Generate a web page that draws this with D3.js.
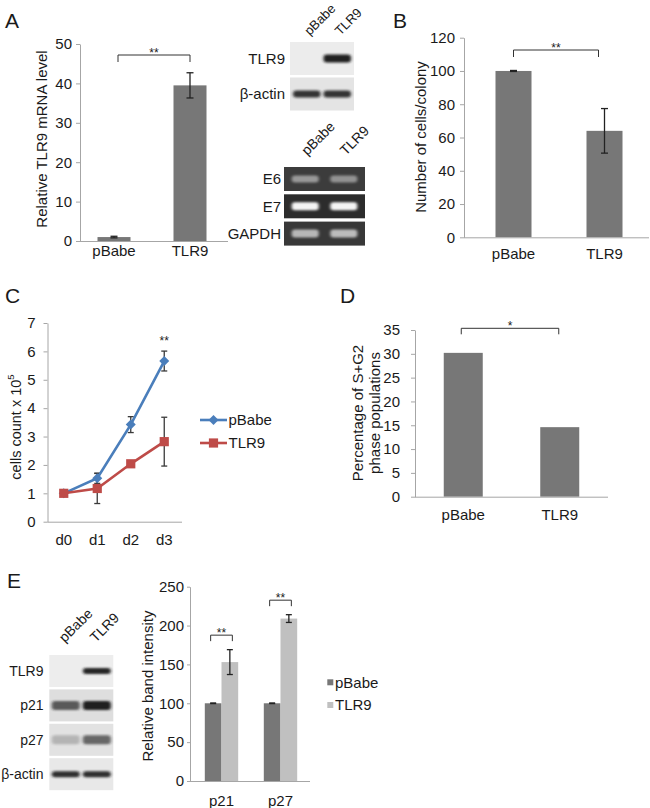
<!DOCTYPE html>
<html><head><meta charset="utf-8">
<script src="https://cdn.jsdelivr.net/npm/d3@7"></script>
<style>
body{margin:0;background:#fff;}
svg text{font-family:"Liberation Sans",Arial,Helvetica,sans-serif;fill:#1a1a1a;}
</style></head><body>
<svg id="fig" width="650" height="808"></svg>
<script>
// ---------------- DATA ----------------
const groups = ["pBabe", "TLR9"];

const mrnaLevel = [1.0, 39.5];
const mrnaError = [0.2, 3.2];
const mrnaTicks = [0, 10, 20, 30, 40, 50];

const colonyCells = [100, 64];
const colonyError = [0.3, 13.4];
const colonyTicks = [0, 20, 40, 60, 80, 100, 120];

const days = ["d0", "d1", "d2", "d3"];
const countPBabe = [1.0, 1.53, 3.42, 5.66];
const countPBabeErr = [0, 0.18, 0.28, 0.35];
const countTLR9 = [1.0, 1.17, 2.04, 2.82];
const countTLR9Err = [0, 0.53, 0.04, 0.86];
const countTicks = [0, 1, 2, 3, 4, 5, 6, 7];

const phasePct = [30.2, 14.6];
const phaseTicks = [0, 5, 10, 15, 20, 25, 30, 35];

const proteins = ["p21", "p27"];
const bandPBabe = [100, 100];
const bandPBabeErr = [0.4, 0.4];
const bandTLR9 = [153, 209];
const bandTLR9Err = [16, 5];
const bandTicks = [0, 50, 100, 150, 200, 250];

const blotARows = ["TLR9", "β-actin"];
const blotAIntensity = [[0, 0.95], [0.85, 0.85]];
const gelRows = ["E6", "E7", "GAPDH"];
const gelIntensity = [[0.5, 0.47], [1.0, 1.0], [0.68, 0.7]];
const blotERows = ["TLR9", "p21", "p27", "β-actin"];
const blotEIntensity = [[0, 0.92], [0.66, 0.95], [0.22, 0.6], [0.88, 0.88]];

// ---------------- STYLE ----------------
const AX = "#a6a6a6", DARK = "#777777", LIGHT = "#c0c0c0", TXT = "#1a1a1a";
const BLUE = "#4a7ebb", RED = "#be4b48";
const FS = 15;
const intFmt = d3.format("d");

const svg = d3.select("#fig");
const defs = svg.append("defs");
defs.append("filter").attr("id", "blur").attr("x", "-30%").attr("y", "-120%").attr("width", "160%").attr("height", "340%")
  .append("feGaussianBlur").attr("stdDeviation", "1.8 1.3");

function styleAxis(a) {
  a.attr("font-family", null).attr("font-size", null);
  a.select(".domain").attr("stroke", AX);
  a.selectAll(".tick line").attr("stroke", AX);
  a.selectAll(".tick text").attr("font-size", FS).attr("fill", TXT);
}
function panelLabel(t, x, y) {
  svg.append("text").attr("x", x).attr("y", y).attr("font-size", 21).text(t);
}
function yTitle(lines, cxs, cy, fs) {
  lines.forEach((l, i) => {
    svg.append("text").attr("transform", `translate(${cxs[i]},${cy}) rotate(-90)`)
      .attr("text-anchor", "middle").attr("dy", "0.35em").attr("font-size", fs || FS).text(l);
  });
}
function errorBars(g, pts, y, cap, color) {
  pts.forEach(p => {
    if (p.e == null) return;
    const y1 = y(p.v + p.e), y2 = y(p.v - p.e);
    g.append("line").attr("x1", p.cx).attr("x2", p.cx).attr("y1", y1).attr("y2", y2)
      .attr("stroke", color || "#222").attr("stroke-width", 1.3);
    [y1, y2].forEach(yy => g.append("line").attr("x1", p.cx - cap / 2).attr("x2", p.cx + cap / 2)
      .attr("y1", yy).attr("y2", yy).attr("stroke", color || "#222").attr("stroke-width", 1.3));
  });
}
function bracket(x1, x2, yTop, leg, label) {
  svg.append("path").attr("d", `M${x1},${yTop + leg}V${yTop}H${x2}V${yTop + leg}`)
    .attr("fill", "none").attr("stroke", "#333").attr("stroke-width", 1);
  svg.append("text").attr("x", (x1 + x2) / 2).attr("y", yTop + 1.5).attr("text-anchor", "middle")
    .attr("font-size", 12).text(label);
}
function barChart(o) {
  const x = d3.scaleBand().domain(o.cats).range(o.xr);
  const y = d3.scaleLinear().domain(o.dom).range(o.yr);
  const g = svg.append("g");
  const ya = g.append("g").attr("transform", `translate(${o.axX},0)`)
    .call(d3.axisLeft(y).tickValues(o.ticks).tickFormat(intFmt).tickSize(4).tickSizeOuter(0).tickPadding(o.tickPad));
  styleAxis(ya);
  const cx = d => x(d) + x.bandwidth() / 2;
  g.selectAll("rect.bar").data(o.cats).join("rect").attr("class", "bar")
    .attr("x", d => cx(d) - o.barW / 2).attr("width", o.barW)
    .attr("y", (d, i) => y(o.vals[i])).attr("height", (d, i) => y(0) - y(o.vals[i]))
    .attr("fill", o.color);
  const xa = g.append("g").attr("transform", `translate(0,${y(0)})`)
    .call(d3.axisBottom(x).tickSize(0).tickPadding(o.labelPad));
  xa.select(".domain").remove();
  styleAxis(xa);
  g.append("line").attr("x1", o.axX).attr("x2", o.xEnd).attr("y1", y(0) + 0.5).attr("y2", y(0) + 0.5)
    .attr("stroke", AX);
  if (o.errs) errorBars(g, o.cats.map((c, i) => ({ cx: cx(c), v: o.vals[i], e: o.errs[i] })), y, o.cap);
  return { x, y, cx };
}
function blot(o) {
  const lane = d3.scaleBand().domain(groups).range([o.x0, o.x1]).paddingInner(o.pi).paddingOuter(o.po);
  o.rows.forEach((lab, i) => {
    const y = o.top + i * (o.rowH + o.gap);
    svg.append("rect").attr("x", o.x0).attr("y", y).attr("width", o.x1 - o.x0).attr("height", o.rowH)
      .attr("fill", o.bg[i]);
    groups.forEach((gname, j) => {
      const v = o.intens[i][j];
      if (v <= 0) return;
      svg.append("rect").attr("x", lane(gname)).attr("y", y + o.rowH / 2 - o.bandH[i] / 2)
        .attr("width", lane.bandwidth()).attr("height", o.bandH[i]).attr("rx", 3)
        .attr("fill", o.bandColor).attr("opacity", v).attr("filter", "url(#blur)");
    });
    svg.append("text").attr("x", o.labelX).attr("y", y + o.rowH / 2).attr("dy", "0.35em")
      .attr("text-anchor", "end").attr("font-size", o.fs).text(lab);
  });
  groups.forEach(gname => {
    const c = lane(gname) + lane.bandwidth() / 2;
    svg.append("text").attr("transform", `translate(${c + o.ldx},${o.top - o.ldy}) rotate(-45)`)
      .attr("font-size", o.lfs).text(gname);
  });
}

// ---------------- PANEL A ----------------
panelLabel("A", 5, 28);
const A = barChart({ cats: groups, vals: mrnaLevel, errs: mrnaError, ticks: mrnaTicks, dom: [0, 50],
  xr: [76, 228], yr: [241, 44], axX: 80, xEnd: 228, barW: 33, color: DARK, tickPad: 4, labelPad: 4, cap: 7 });
yTitle(["Relative TLR9 mRNA level"], [42], 139);
bracket(A.cx("pBabe") + 4, A.cx("TLR9"), 55, 7, "**");

blot({ rows: blotARows, intens: blotAIntensity, x0: 290, x1: 354, top: 42, rowH: 33, gap: 2.5,
  pi: 0.1, po: 0.1, bandH: [8, 7], bg: ["#ececec", "#e4e4e4"], bandColor: "#151515",
  labelX: 285, ldx: 3, ldy: 6, fs: 15, lfs: 13 });
blot({ rows: gelRows, intens: gelIntensity, x0: 284, x1: 365, top: 167, rowH: 24, gap: 3.3,
  pi: 0.3, po: 0.2, bandH: [7, 8, 8], bg: ["#3c3c3c", "#2c2c2c", "#383838"], bandColor: "#f4f4f4",
  labelX: 281, ldx: 2, ldy: 11, fs: 15, lfs: 14 });

// ---------------- PANEL B ----------------
panelLabel("B", 393, 28);
const B = barChart({ cats: groups, vals: colonyCells, errs: colonyError, ticks: colonyTicks, dom: [0, 120],
  xr: [468, 650], yr: [237.3, 37.7], axX: 464, xEnd: 649, barW: 36, color: DARK, tickPad: 5, labelPad: 11, cap: 7 });
yTitle(["Number of cells/colony"], [421], 137);
bracket(B.cx("pBabe"), B.cx("TLR9") - 6, 50, 7, "**");

// ---------------- PANEL C ----------------
panelLabel("C", 5, 303);
{
  const x = d3.scaleBand().domain(days).range([47, 181]);
  const y = d3.scaleLinear().domain([0, 7]).range([521.7, 323]);
  const cx = d => x(d) + x.bandwidth() / 2;
  const g = svg.append("g");
  const ya = g.append("g").attr("transform", `translate(47.5,0)`)
    .call(d3.axisLeft(y).tickValues(countTicks).tickFormat(intFmt).tickSize(4).tickSizeOuter(0).tickPadding(8));
  styleAxis(ya);
  const xa = g.append("g").attr("transform", `translate(0,${y(0)})`)
    .call(d3.axisBottom(x).tickSize(0).tickPadding(13));
  xa.select(".domain").remove();
  styleAxis(xa);
  g.append("line").attr("x1", 47.5).attr("x2", 182).attr("y1", y(0) + 0.5).attr("y2", y(0) + 0.5).attr("stroke", AX);

  errorBars(g, days.map((d, i) => ({ cx: cx(d), v: countPBabe[i], e: countPBabeErr[i] || null })), y, 6, "#3a3a3a");
  errorBars(g, days.map((d, i) => ({ cx: cx(d), v: countTLR9[i], e: countTLR9Err[i] || null })), y, 6, "#3a3a3a");

  const line = d3.line().x((d, i) => cx(days[i])).y(d => y(d));
  const diamond = r => `M0,${-r}L${r},0L0,${r}L${-r},0Z`;
  g.append("path").attr("d", line(countPBabe)).attr("fill", "none").attr("stroke", BLUE).attr("stroke-width", 2.6);
  countPBabe.forEach((v, i) => g.append("path").attr("d", diamond(5))
    .attr("transform", `translate(${cx(days[i])},${y(v)})`).attr("fill", BLUE));
  g.append("path").attr("d", line(countTLR9)).attr("fill", "none").attr("stroke", RED).attr("stroke-width", 2.6);
  countTLR9.forEach((v, i) => g.append("rect").attr("x", cx(days[i]) - 4.6).attr("y", y(v) - 4.6)
    .attr("width", 9.2).attr("height", 9.2).attr("fill", RED));

  svg.append("text").attr("x", cx("d3")).attr("y", 345).attr("text-anchor", "middle").attr("font-size", 12).text("**");

  // legend
  [["pBabe", BLUE, 420], ["TLR9", RED, 443]].forEach(([name, col, ly], k) => {
    g.append("line").attr("x1", 200).attr("x2", 227).attr("y1", ly).attr("y2", ly).attr("stroke", col).attr("stroke-width", 2.6);
    if (k === 0) g.append("path").attr("d", diamond(5)).attr("transform", `translate(213.5,${ly})`).attr("fill", col);
    else g.append("rect").attr("x", 213.5 - 4.6).attr("y", ly - 4.6).attr("width", 9.2).attr("height", 9.2).attr("fill", col);
    g.append("text").attr("x", 228.5).attr("y", ly).attr("dy", "0.35em").attr("font-size", FS).text(name);
  });

  const t = svg.append("text").attr("transform", `translate(16,427) rotate(-90)`).attr("text-anchor", "middle")
    .attr("dy", "0.35em").attr("font-size", 14.5);
  t.append("tspan").text("cells count x 10");
  t.append("tspan").attr("font-size", 9.5).attr("dy", "-0.75em").text("5");
}

// ---------------- PANEL D ----------------
panelLabel("D", 340, 303);
const D = barChart({ cats: groups, vals: phasePct, errs: null, ticks: phaseTicks, dom: [0, 35],
  xr: [415, 608], yr: [496.7, 330], axX: 415, xEnd: 608, barW: 39, color: DARK, tickPad: 11, labelPad: 13, cap: 7 });
yTitle(["Percentage of S+G2", "phase populations"], [358, 375], 413);
bracket(D.cx("pBabe") - 2, D.cx("TLR9") - 1, 328.3, 6, "*");

// ---------------- PANEL E ----------------
panelLabel("E", 7, 588);
blot({ rows: blotERows, intens: blotEIntensity, x0: 49.3, x1: 113.3, top: 655, rowH: 32, gap: 2.4,
  pi: 0.1, po: 0.08, bandH: [6, 9, 9, 6], bg: ["#ededed", "#dedede", "#e2e2e2", "#e8e8e8"], bandColor: "#151515",
  labelX: 43.5, ldx: -1, ldy: 12, fs: 14, lfs: 14 });
{
  const x = d3.scaleBand().domain(proteins).range([192, 310]);
  const xi = d3.scaleBand().domain(groups).range([-16.7, 16.7]);
  const y = d3.scaleLinear().domain([0, 250]).range([781, 586.7]);
  const g = svg.append("g");
  const ya = g.append("g").attr("transform", `translate(190,0)`)
    .call(d3.axisLeft(y).tickValues(bandTicks).tickFormat(intFmt).tickSize(3).tickSizeOuter(0).tickPadding(3));
  styleAxis(ya);
  const series = [[bandPBabe, bandPBabeErr, DARK], [bandTLR9, bandTLR9Err, LIGHT]];
  const bx = (p, gname) => x(p) + x.bandwidth() / 2 + xi(gname);
  series.forEach(([vals, errs, col], s) => {
    proteins.forEach((p, i) => {
      g.append("rect").attr("x", bx(p, groups[s])).attr("width", xi.bandwidth())
        .attr("y", y(vals[i])).attr("height", y(0) - y(vals[i])).attr("fill", col);
    });
  });
  series.forEach(([vals, errs], s) => {
    errorBars(g, proteins.map((p, i) => ({ cx: bx(p, groups[s]) + xi.bandwidth() / 2, v: vals[i], e: errs[i] })), y, 6);
  });
  const xa = g.append("g").attr("transform", `translate(0,${y(0)})`)
    .call(d3.axisBottom(x).tickSize(0).tickPadding(14));
  xa.select(".domain").remove();
  styleAxis(xa);
  g.append("line").attr("x1", 190).attr("x2", 310).attr("y1", y(0) + 0.5).attr("y2", y(0) + 0.5).attr("stroke", AX);

  proteins.forEach((p, i) => {
    const x1 = bx(p, "pBabe") + xi.bandwidth() / 2 - 2.5;
    const x2 = bx(p, "TLR9") + xi.bandwidth() / 2 + 2.5;
    bracket(x1, x2, y(bandTLR9[i] + bandTLR9Err[i]) - 14.5, 6, "**");
  });
  yTitle(["Relative band intensity"], [148], 686);

  [["pBabe", DARK, 682.3], ["TLR9", LIGHT, 705]].forEach(([name, col, ly]) => {
    g.append("rect").attr("x", 327.3).attr("y", ly - 3).attr("width", 6).attr("height", 6).attr("fill", col);
    g.append("text").attr("x", 335).attr("y", ly).attr("dy", "0.35em").attr("font-size", FS).text(name);
  });
}
</script>
</body></html>
